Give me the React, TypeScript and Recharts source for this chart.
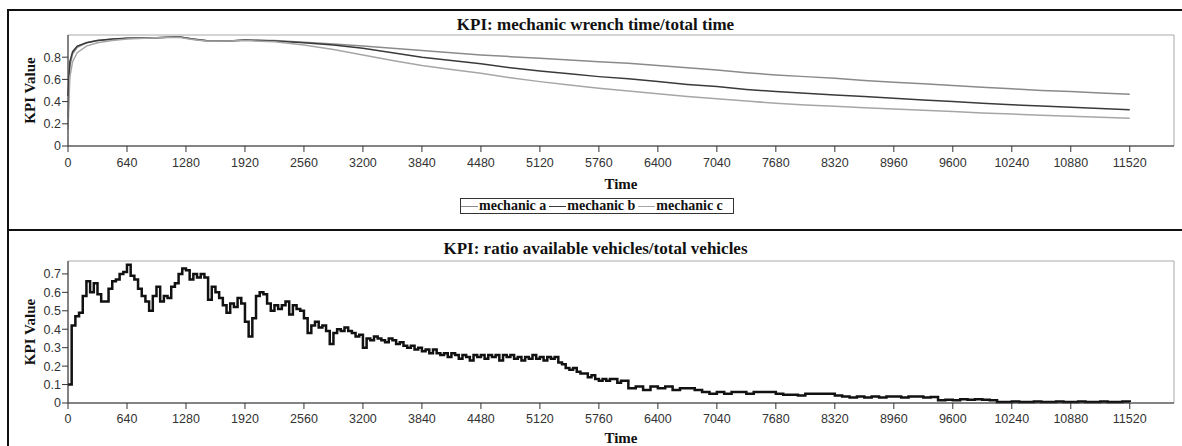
import { LineChart, Line, XAxis, YAxis, ReferenceArea } from "recharts";

// KPI 1: mechanic wrench time / total time
const wrenchTimes = [
  0, 20, 50, 100, 200, 320, 480, 640, 960, 1200, 1350, 1500, 1750, 1920, 2240, 2560, 2880, 3200, 3520, 3840, 4160,
  4480, 4800, 5120, 5440, 5760, 6080, 6400, 6720, 7040, 7360, 7680, 8000, 8320, 8640, 8960, 9280, 9600, 9920, 10240,
  10560, 10880, 11200, 11520,
];
const mechanicA = [
  0.25, 0.72, 0.83, 0.89, 0.93, 0.95, 0.96, 0.97, 0.975, 0.985, 0.965, 0.945, 0.945, 0.955, 0.95, 0.935, 0.92, 0.9, 0.88,
  0.86, 0.84, 0.82, 0.805, 0.79, 0.775, 0.76, 0.745, 0.725, 0.705, 0.685, 0.66, 0.64, 0.625, 0.61, 0.59, 0.575, 0.56,
  0.545, 0.53, 0.515, 0.5, 0.49, 0.478, 0.466,
];
const mechanicB = [
  0.45, 0.76, 0.85, 0.9, 0.93, 0.95, 0.965, 0.97, 0.975, 0.985, 0.965, 0.95, 0.945, 0.955, 0.945, 0.93, 0.91, 0.88,
  0.84, 0.8, 0.77, 0.74, 0.705, 0.675, 0.65, 0.625, 0.605, 0.58, 0.555, 0.535, 0.51, 0.49, 0.475, 0.46, 0.445, 0.43,
  0.415, 0.4, 0.385, 0.372, 0.36, 0.349, 0.338, 0.327,
];
const mechanicC = [
  0.15, 0.62, 0.76, 0.84, 0.9, 0.93, 0.95, 0.965, 0.975, 0.98, 0.96, 0.945, 0.945, 0.95, 0.94, 0.91, 0.87, 0.82, 0.77,
  0.725, 0.69, 0.655, 0.615, 0.58, 0.55, 0.52, 0.495, 0.47, 0.445, 0.425, 0.405, 0.385, 0.37, 0.358, 0.345, 0.333, 0.321,
  0.31, 0.298, 0.288, 0.278, 0.268, 0.259, 0.25,
];

// KPI 2: ratio available vehicles / total vehicles
// every 40 time units from 0 to 6000, then every 80 from 6080 to 11520
const ratioEarlyStep = 40;
const ratioLateStart = 6080;
const ratioLateStep = 80;
const ratioEarly = [
  0.1, 0.42, 0.47, 0.49, 0.58, 0.66, 0.6, 0.65, 0.59, 0.55, 0.55, 0.62, 0.66, 0.67, 0.7, 0.71,
  0.75, 0.69, 0.67, 0.62, 0.58, 0.55, 0.5, 0.58, 0.63, 0.55, 0.58, 0.57, 0.63, 0.65, 0.7, 0.73,
  0.72, 0.67, 0.7, 0.68, 0.7, 0.68, 0.56, 0.63, 0.6, 0.57, 0.53, 0.49, 0.54, 0.52, 0.57, 0.54,
  0.44, 0.36, 0.46, 0.58, 0.6, 0.59, 0.54, 0.5, 0.53, 0.51, 0.53, 0.55, 0.48, 0.53, 0.51, 0.5,
  0.46, 0.38, 0.42, 0.44, 0.41, 0.42, 0.39, 0.32, 0.38, 0.4, 0.39, 0.41, 0.39, 0.38, 0.36, 0.37,
  0.3, 0.35, 0.34, 0.36, 0.35, 0.34, 0.33, 0.35, 0.34, 0.32, 0.33, 0.31, 0.3, 0.31, 0.29, 0.3,
  0.28, 0.29, 0.27, 0.29, 0.27, 0.26, 0.27, 0.25, 0.27, 0.26, 0.24, 0.26, 0.25, 0.23, 0.26, 0.25,
  0.26, 0.24, 0.26, 0.25, 0.26, 0.23, 0.26, 0.25, 0.26, 0.24, 0.25, 0.23, 0.25, 0.24, 0.26, 0.24,
  0.25, 0.23, 0.25, 0.24, 0.25, 0.22, 0.21, 0.19, 0.18, 0.19, 0.17, 0.16, 0.16, 0.14, 0.15, 0.13,
  0.12, 0.13, 0.12, 0.13, 0.13, 0.11, 0.12,
];
const ratioLate = [
  0.08, 0.09, 0.07, 0.09, 0.08, 0.09, 0.07, 0.08, 0.08, 0.07, 0.06, 0.05, 0.06, 0.05, 0.06,
  0.06, 0.05, 0.06, 0.06, 0.06, 0.05, 0.045, 0.045, 0.04, 0.05, 0.05, 0.05, 0.05, 0.04, 0.035,
  0.03, 0.035, 0.03, 0.035, 0.03, 0.035, 0.035, 0.03, 0.035, 0.035, 0.03, 0.033, 0.015, 0.018, 0.015,
  0.02, 0.018, 0.02, 0.018, 0.015, 0.005, 0.005, 0.008, 0.005, 0.005, 0.008, 0.005, 0.005, 0.008, 0.005,
  0.005, 0.008, 0.005, 0.005, 0.008, 0.005, 0.005, 0.008, 0.005,
];

const timeTicks = [0, 640, 1280, 1920, 2560, 3200, 3840, 4480, 5120, 5760, 6400, 7040, 7680, 8320, 8960, 9600, 10240, 10880, 11520];
const wrenchTicks = [0, 0.2, 0.4, 0.6, 0.8];
const ratioTicks = [0, 0.1, 0.2, 0.3, 0.4, 0.5, 0.6, 0.7];

const mechanics = [
  { key: "a", name: "mechanic a", color: "#8a8a8a" },
  { key: "b", name: "mechanic b", color: "#3a3a3a" },
  { key: "c", name: "mechanic c", color: "#a6a6a6" },
];

const serif = '"Liberation Serif", "Times New Roman", serif';
const sans = '"Liberation Sans", Arial, sans-serif';
const tickStyle = { fontFamily: sans, fontSize: 12.5, fill: "#333" };
const labelStyle = { fontFamily: serif, fontSize: 15, fontWeight: "bold", fill: "#111" };
const axisColor = "#333";

function Title({ top, text }: { top: number; text: string }) {
  return (
    <div
      style={{
        position: "absolute",
        left: 9,
        width: 1173,
        top,
        textAlign: "center",
        fontFamily: serif,
        fontWeight: "bold",
        fontSize: 17,
        lineHeight: "20px",
        color: "#111",
      }}
    >
      {text}
    </div>
  );
}

export default function App() {
  const wrenchData = wrenchTimes.map((t, i) => ({ t, a: mechanicA[i], b: mechanicB[i], c: mechanicC[i] }));
  const ratioData = [
    ...ratioEarly.map((v, i) => ({ t: i * ratioEarlyStep, v })),
    ...ratioLate.map((v, i) => ({ t: ratioLateStart + i * ratioLateStep, v })),
  ];

  return (
    <div style={{ position: "absolute", left: 0, top: 0, width: 1182, height: 446, background: "#fff", overflow: "hidden" }}>
      <style>{"body{margin:0;overflow:hidden}"}</style>

      {/* frame lines */}
      <div style={{ position: "absolute", left: 7, top: 9, width: 1175, height: 2, background: "#111" }} />
      <div style={{ position: "absolute", left: 7, top: 9, width: 2, height: 437, background: "#111" }} />
      <div style={{ position: "absolute", left: 7, top: 229, width: 1175, height: 2, background: "#111" }} />

      <Title top={15} text="KPI: mechanic wrench time/total time" />
      <div style={{ position: "absolute", left: 8, top: 10 }}>
        <LineChart width={1174} height={220} data={wrenchData} margin={{ top: 25, right: 8, bottom: 0, left: 0 }}>
          <ReferenceArea x1={0} x2={12000} y1={0} y2={1} fill="none" stroke="#aaa" strokeWidth={1} />
          <XAxis
            dataKey="t"
            type="number"
            domain={[0, 12000]}
            ticks={timeTicks}
            interval={0}
            height={84}
            tick={tickStyle}
            tickSize={6}
            tickMargin={6}
            stroke={axisColor}
            label={{ value: "Time", position: "insideTop", offset: 32, ...labelStyle }}
          />
          <YAxis
            type="number"
            domain={[0, 1]}
            ticks={wrenchTicks}
            interval={0}
            width={60}
            tick={tickStyle}
            tickSize={6}
            tickMargin={1}
            stroke={axisColor}
            label={{ value: "KPI Value", angle: -90, position: "center", dx: -8, ...labelStyle }}
          />
          {mechanics.map((m) => (
            <Line
              key={m.key}
              type="linear"
              dataKey={m.key}
              name={m.name}
              stroke={m.color}
              strokeWidth={1.5}
              dot={false}
              activeDot={false}
              isAnimationActive={false}
            />
          ))}
        </LineChart>
      </div>

      {/* legend */}
      <div
        style={{
          position: "absolute",
          left: 460,
          top: 198,
          width: 272,
          height: 14,
          border: "1px solid #333",
          display: "flex",
          alignItems: "center",
          fontFamily: serif,
          fontWeight: "bold",
          fontSize: 14,
          lineHeight: "14px",
          color: "#111",
          whiteSpace: "nowrap",
          overflow: "hidden",
        }}
      >
        {mechanics.map((m) => (
          <span key={m.key} style={{ display: "flex", alignItems: "center" }}>
            <span style={{ display: "inline-block", width: 17, height: 0, borderTop: `1.5px solid ${m.color}`, marginRight: 1 }} />
            <span style={{ marginRight: 3 }}>{m.name}</span>
          </span>
        ))}
      </div>

      <Title top={239} text="KPI: ratio available vehicles/total vehicles" />
      <div style={{ position: "absolute", left: 8, top: 230 }}>
        <LineChart width={1174} height={216} data={ratioData} margin={{ top: 31, right: 8, bottom: 0, left: 0 }}>
          <ReferenceArea x1={0} x2={12000} y1={0} y2={0.77} fill="none" stroke="#aaa" strokeWidth={1} />
          <XAxis
            dataKey="t"
            type="number"
            domain={[0, 12000]}
            ticks={timeTicks}
            interval={0}
            height={43}
            tick={tickStyle}
            tickSize={6}
            tickMargin={5}
            stroke={axisColor}
            label={{ value: "Time", position: "insideTop", offset: 29, ...labelStyle }}
          />
          <YAxis
            type="number"
            domain={[0, 0.77]}
            ticks={ratioTicks}
            interval={0}
            width={60}
            tick={tickStyle}
            tickSize={6}
            tickMargin={1}
            stroke={axisColor}
            label={{ value: "KPI Value", angle: -90, position: "center", dx: -8, ...labelStyle }}
          />
          <Line
            type="stepAfter"
            dataKey="v"
            name="ratio available vehicles"
            stroke="#111"
            strokeWidth={2.5}
            dot={false}
            activeDot={false}
            isAnimationActive={false}
          />
        </LineChart>
      </div>
    </div>
  );
}
